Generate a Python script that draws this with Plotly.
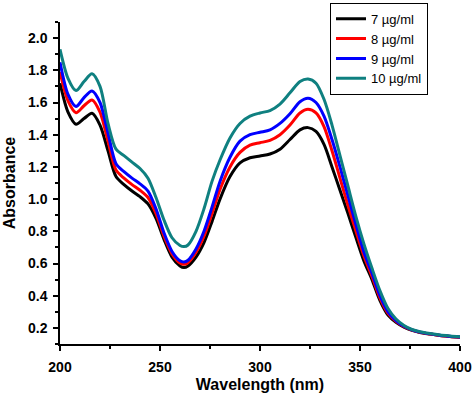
import plotly.graph_objects as go

wavelength = [200, 204, 208, 212, 216, 220, 224, 228, 232, 236, 240, 244, 248, 252, 256, 260, 262, 264,
              268, 272, 276, 280, 285, 290, 295, 300, 305, 310, 315, 320, 324, 328, 332, 336, 340, 344,
              348, 352, 356, 360, 364, 368, 372, 376, 380, 385, 390, 395, 400]

abs_7 = [1.72, 1.54, 1.465, 1.50, 1.533, 1.46, 1.30, 1.14, 1.09, 1.05, 1.015, 0.97, 0.88, 0.75, 0.64, 0.585,
         0.575, 0.585, 0.64, 0.73, 0.86, 1.0, 1.14, 1.225, 1.257, 1.268, 1.28, 1.31, 1.37, 1.43, 1.444, 1.42,
         1.34, 1.20, 1.055, 0.91, 0.76, 0.615, 0.50, 0.37, 0.28, 0.235, 0.205, 0.185, 0.172, 0.162, 0.153,
         0.147, 0.142]

abs_8 = [1.79, 1.61, 1.537, 1.58, 1.616, 1.54, 1.36, 1.18, 1.13, 1.09, 1.055, 1.01, 0.91, 0.77, 0.66, 0.603,
         0.595, 0.605, 0.67, 0.77, 0.91, 1.06, 1.20, 1.29, 1.335, 1.35, 1.365, 1.40, 1.46, 1.535, 1.558, 1.535,
         1.45, 1.30, 1.13, 0.96, 0.80, 0.645, 0.52, 0.385, 0.29, 0.24, 0.207, 0.187, 0.173, 0.162, 0.153,
         0.147, 0.142]

abs_9 = [1.85, 1.65, 1.575, 1.63, 1.672, 1.60, 1.41, 1.22, 1.17, 1.13, 1.095, 1.05, 0.94, 0.79, 0.675, 0.617,
         0.61, 0.62, 0.69, 0.80, 0.95, 1.11, 1.26, 1.36, 1.40, 1.415, 1.43, 1.47, 1.53, 1.605, 1.627, 1.60,
         1.515, 1.37, 1.20, 1.02, 0.84, 0.67, 0.54, 0.40, 0.30, 0.245, 0.21, 0.188, 0.174, 0.163, 0.154,
         0.148, 0.143]

abs_10 = [1.93, 1.75, 1.674, 1.73, 1.778, 1.70, 1.47, 1.31, 1.27, 1.23, 1.19, 1.13, 1.01, 0.87, 0.76, 0.712,
          0.705, 0.715, 0.80, 0.94, 1.11, 1.243, 1.38, 1.47, 1.515, 1.535, 1.55, 1.59, 1.66, 1.73, 1.746, 1.72,
          1.62, 1.46, 1.27, 1.08, 0.89, 0.72, 0.57, 0.43, 0.32, 0.255, 0.215, 0.19, 0.176, 0.165, 0.156,
          0.15, 0.145]

series_names = ["7 µg/ml", "8 µg/ml", "9 µg/ml", "10 µg/ml"]
series_values = [abs_7, abs_8, abs_9, abs_10]
colors = ["#000000", "#ff0000", "#0000ff", "#0f8080"]

fig = go.Figure()
for name, vals, col in zip(series_names, series_values, colors):
    fig.add_trace(go.Scatter(x=wavelength, y=vals, name=name, mode="lines",
                             line=dict(color=col, width=3, shape="spline", smoothing=0.8)))

font_main = "Liberation Sans, Arial, sans-serif"
fig.update_layout(
    width=474, height=398,
    margin=dict(l=60, r=14, t=22, b=54, autoexpand=False),
    paper_bgcolor="white", plot_bgcolor="white",
    font=dict(family=font_main, color="black"),
    legend=dict(x=0.675, y=1.06, xanchor="left", yanchor="top",
                bordercolor="black", borderwidth=1, bgcolor="white",
                font=dict(size=13, family=font_main), tracegroupgap=0,
                itemwidth=30),
    showlegend=True,
)
fig.update_xaxes(
    range=[200, 400], tick0=200, dtick=50, showgrid=False, zeroline=False,
    showline=True, linecolor="black", linewidth=1.5,
    ticks="outside", ticklen=5, tickwidth=1.5, tickcolor="black", ticklabelstandoff=4,
    tickfont=dict(size=14, family=font_main, weight="bold"),
    minor=dict(dtick=25, ticks="outside", ticklen=3, tickwidth=1.5, tickcolor="black"),
    title=dict(text="<b>Wavelength (nm)</b>", font=dict(size=16), standoff=5),
)
fig.update_yaxes(
    range=[0.1, 2.1], tick0=0.2, dtick=0.2, tickformat=".1f", showgrid=False, zeroline=False,
    showline=True, linecolor="black", linewidth=1.5,
    ticks="outside", ticklen=5, tickwidth=1.5, tickcolor="black", ticklabelstandoff=3,
    tickfont=dict(size=14, family=font_main, weight="bold"),
    minor=dict(dtick=0.1, ticks="outside", ticklen=3, tickwidth=1.5, tickcolor="black"),
    title=dict(text="<b>Absorbance</b>", font=dict(size=16), standoff=8),
)

fig.write_html("out.html",
               config={"displayModeBar": False},
               post_script="document.body.style.margin='0';document.body.style.overflow='hidden';")
